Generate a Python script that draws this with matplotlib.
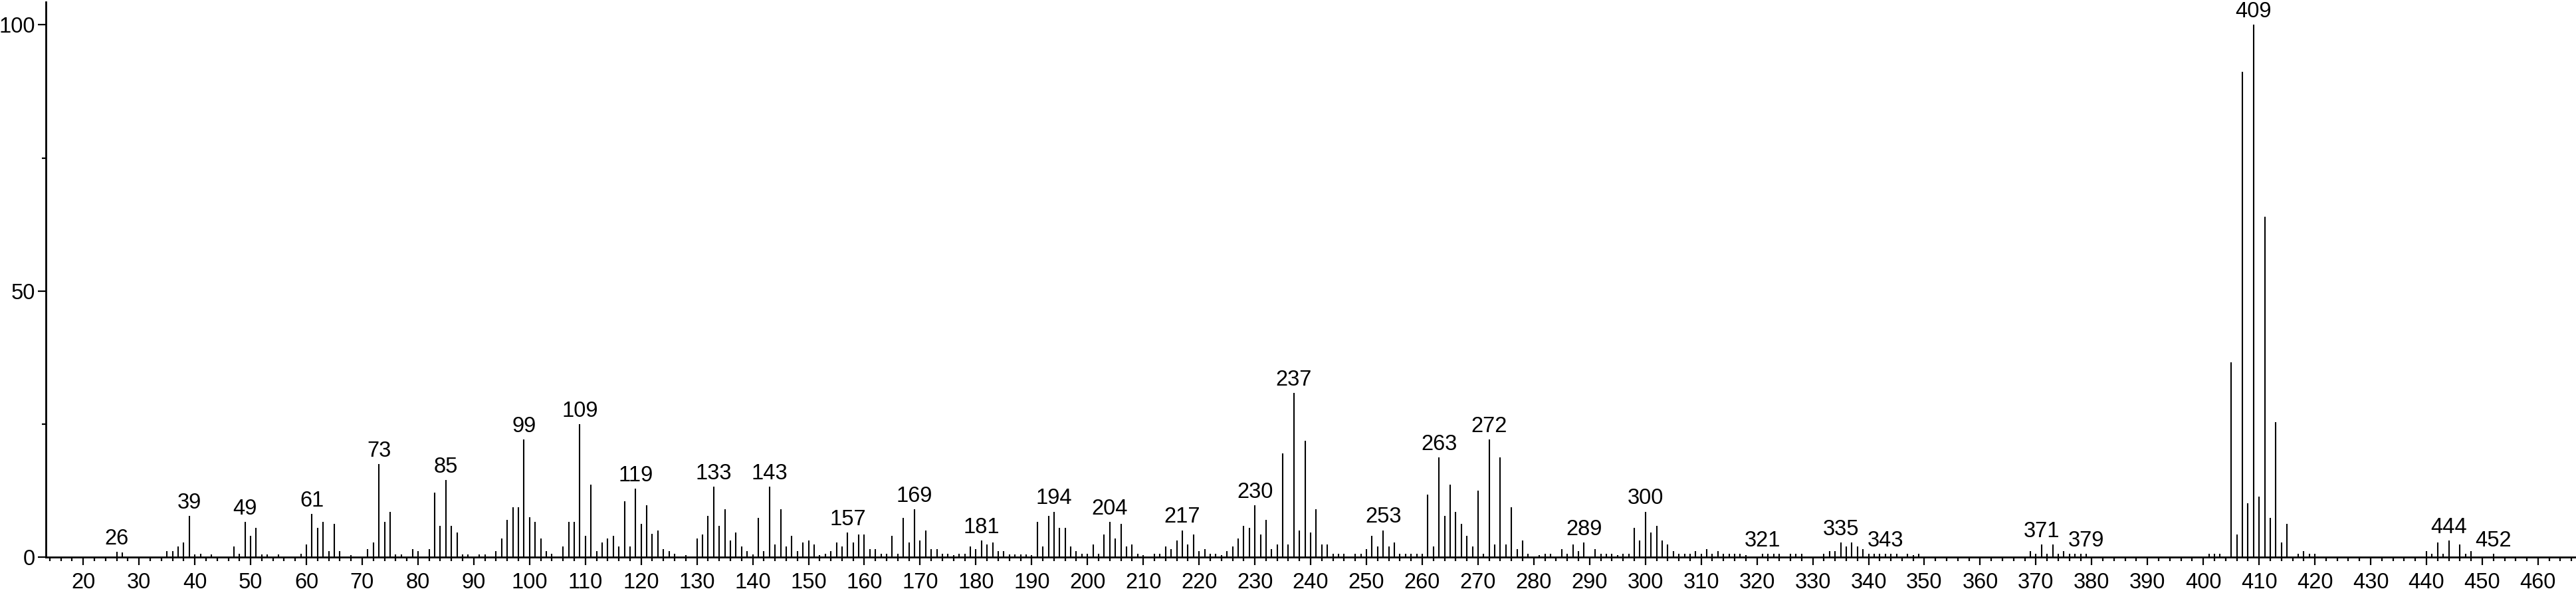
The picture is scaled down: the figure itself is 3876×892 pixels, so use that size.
import matplotlib
matplotlib.use("Agg")
import matplotlib.pyplot as plt
from matplotlib.ticker import MultipleLocator, FixedLocator

plt.rcParams["font.family"] = ["Liberation Sans", "DejaVu Sans"]

# m/z and relative intensity (%)
mz = [26, 27, 35, 36, 37, 38, 39, 40, 41, 43, 47, 48, 49, 50, 51, 52, 53, 55, 59, 60,
      61, 62, 63, 64, 65, 66, 68, 71, 72, 73, 74, 75, 76, 77, 79, 80, 82, 83, 84, 85,
      86, 87, 88, 89, 91, 92, 94, 95, 96, 97, 98, 99, 100, 101, 102, 103, 104, 106, 107, 108,
      109, 110, 111, 112, 113, 114, 115, 116, 117, 118, 119, 120, 121, 122, 123, 124, 125, 126, 128, 130,
      131, 132, 133, 134, 135, 136, 137, 138, 139, 140, 141, 142, 143, 144, 145, 146, 147, 148, 149, 150,
      151, 152, 153, 154, 155, 156, 157, 158, 159, 160, 161, 162, 163, 164, 165, 166, 167, 168, 169, 170,
      171, 172, 173, 174, 175, 176, 177, 178, 179, 180, 181, 182, 183, 184, 185, 186, 187, 188, 189, 190,
      191, 192, 193, 194, 195, 196, 197, 198, 199, 200, 201, 202, 203, 204, 205, 206, 207, 208, 209, 210,
      212, 213, 214, 215, 216, 217, 218, 219, 220, 221, 222, 223, 224, 225, 226, 227, 228, 229, 230, 231,
      232, 233, 234, 235, 236, 237, 238, 239, 240, 241, 242, 243, 244, 245, 246, 248, 249, 250, 251, 252,
      253, 254, 255, 256, 257, 258, 259, 260, 261, 262, 263, 264, 265, 266, 267, 268, 269, 270, 271, 272,
      273, 274, 275, 276, 277, 278, 279, 281, 282, 283, 285, 286, 287, 288, 289, 291, 292, 293, 294, 295,
      296, 297, 298, 299, 300, 301, 302, 303, 304, 305, 306, 307, 308, 309, 310, 311, 312, 313, 314, 315,
      316, 317, 318, 321, 322, 323, 324, 326, 327, 328, 332, 333, 334, 335, 336, 337, 338, 339, 340, 341,
      342, 343, 344, 345, 347, 348, 349, 369, 370, 371, 372, 373, 374, 375, 376, 377, 378, 379, 401, 402,
      403, 405, 406, 407, 408, 409, 410, 411, 412, 413, 414, 415, 417, 418, 419, 420, 440, 441, 442, 443,
      444, 446, 447, 448, 452]
intensity = [1.0, 0.8, 1.1, 1.1, 1.9, 2.7, 7.7, 0.5, 0.6, 0.5, 1.9, 0.6, 6.6, 3.9, 5.4, 0.5, 0.5, 0.5, 0.6, 2.3,
             8.1, 5.4, 6.6, 1.1, 6.2, 1.1, 0.3, 1.5, 2.7, 17.4, 6.6, 8.5, 0.5, 0.5, 1.5, 1.1, 1.5, 12.1, 5.8, 14.4,
             5.8, 4.6, 0.5, 0.5, 0.5, 0.5, 1.1, 3.5, 7.0, 9.3, 9.3, 22.1, 7.4, 6.6, 3.5, 1.1, 0.6, 1.9, 6.6, 6.6,
             24.9, 3.9, 13.6, 1.1, 2.7, 3.5, 3.9, 1.9, 10.5, 1.9, 12.8, 6.2, 9.7, 4.3, 5.0, 1.5, 1.1, 0.6, 0.3, 3.5,
             4.2, 7.7, 13.2, 5.8, 8.9, 3.1, 4.6, 1.9, 1.1, 0.5, 7.3, 1.1, 13.2, 2.3, 8.9, 1.9, 3.9, 1.1, 2.7, 3.1,
             2.3, 0.3, 0.6, 1.1, 2.7, 1.9, 4.6, 2.7, 4.2, 4.2, 1.5, 1.5, 0.6, 0.6, 3.9, 0.6, 7.3, 2.7, 8.9, 3.1,
             5.0, 1.5, 1.5, 0.6, 0.6, 0.3, 0.6, 0.6, 1.9, 1.5, 3.1, 2.3, 2.7, 1.1, 1.1, 0.5, 0.5, 0.5, 0.5, 0.3,
             6.6, 1.9, 7.7, 8.5, 5.4, 5.4, 1.9, 1.1, 0.6, 0.6, 2.3, 0.6, 4.2, 6.6, 3.5, 6.2, 1.9, 2.3, 0.6, 0.3,
             0.6, 0.6, 1.9, 1.5, 3.1, 5.0, 2.3, 4.2, 1.1, 1.5, 0.6, 0.6, 0.3, 1.1, 1.9, 3.5, 5.8, 5.4, 9.7, 4.2,
             7.0, 1.5, 2.3, 19.5, 2.3, 30.8, 5.0, 21.8, 4.6, 8.9, 2.3, 2.3, 0.6, 0.6, 0.6, 0.6, 0.6, 1.5, 3.9, 1.9,
             5.0, 1.9, 2.7, 0.6, 0.6, 0.6, 0.6, 0.6, 11.7, 1.9, 18.7, 7.7, 13.6, 8.5, 6.2, 3.9, 1.9, 12.4, 0.6, 22.1,
             2.3, 18.7, 2.3, 9.3, 1.5, 3.1, 0.6, 0.3, 0.6, 0.6, 1.5, 0.6, 2.3, 1.1, 2.7, 1.5, 0.6, 0.6, 0.6, 0.3,
             0.6, 0.6, 5.4, 3.1, 8.5, 4.6, 5.8, 3.1, 2.3, 1.1, 0.6, 0.6, 0.6, 1.1, 0.6, 1.5, 0.6, 1.1, 0.6, 0.6,
             0.6, 0.6, 0.3, 0.6, 0.6, 0.6, 0.6, 0.6, 0.6, 0.6, 0.6, 1.1, 1.1, 2.7, 1.9, 2.7, 1.9, 1.5, 0.6, 0.6,
             0.6, 0.6, 0.6, 0.6, 0.6, 0.3, 0.6, 1.1, 0.6, 2.3, 0.6, 2.3, 0.6, 1.1, 0.6, 0.6, 0.6, 0.6, 0.6, 0.6,
             0.6, 36.6, 4.2, 91.2, 10.1, 100.0, 11.3, 64.0, 7.3, 25.3, 2.7, 6.2, 0.6, 1.1, 0.6, 0.6, 1.1, 0.6, 2.7, 0.6,
             3.1, 2.3, 0.6, 1.1, 0.6]

# peaks that carry a label
labeled = [26, 39, 49, 61, 73, 85, 99, 109, 119, 133, 143, 157, 169, 181, 194, 204,
           217, 230, 237, 253, 263, 272, 289, 300, 321, 335, 343, 371, 379, 409, 444, 452]

fig = plt.figure(figsize=(38.76, 8.92), dpi=100)
ax = fig.add_axes([0.0178, 0.0609, 0.9822, 0.9357])

ax.vlines(mz, 0, intensity, colors="black", linewidth=1.5)

height = dict(zip(mz, intensity))
for m in labeled:
    ax.annotate(str(m), (m, height[m]), xytext=(0, 3), textcoords="offset points",
                ha="center", va="bottom", fontsize=23.5)

ax.set_xlim(13.3, 466.8)
ax.set_ylim(0, 104.3)

ax.xaxis.set_major_locator(MultipleLocator(10))
ax.xaxis.set_minor_locator(MultipleLocator(2))
ax.yaxis.set_major_locator(FixedLocator([0, 50, 100]))
ax.yaxis.set_minor_locator(FixedLocator([25, 75]))

ax.tick_params(axis="both", which="major", length=8.6, width=1.6, labelsize=23.5, direction="out")
ax.tick_params(axis="both", which="minor", length=4.3, width=1.6, direction="out")
ax.tick_params(axis="x", which="major", pad=8)
ax.tick_params(axis="y", which="major", pad=3)

for side in ["top", "right"]:
    ax.spines[side].set_visible(False)
for side in ["left", "bottom"]:
    ax.spines[side].set_linewidth(2.0)

fig.savefig("out.png", dpi=100)
